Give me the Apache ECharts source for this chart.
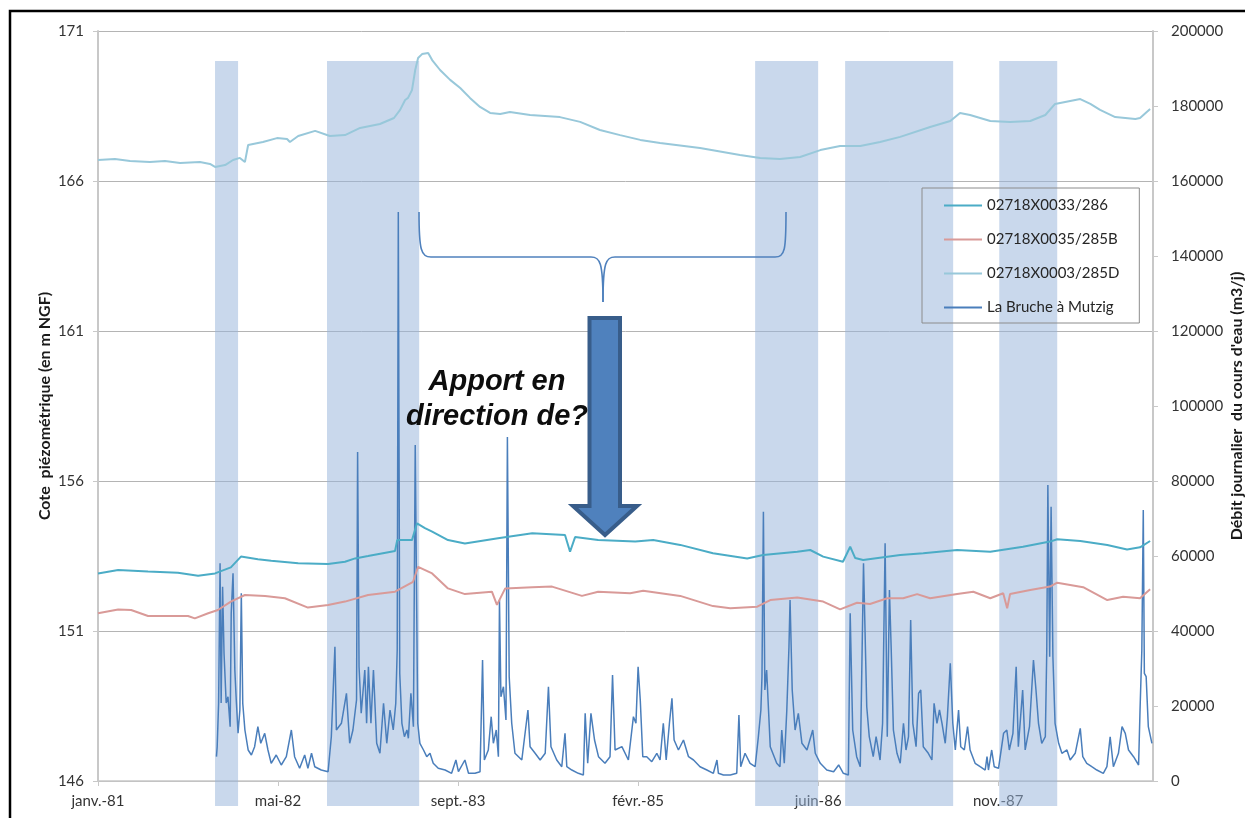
<!DOCTYPE html>
<html>
<head>
<meta charset="utf-8">
<script src="https://cdn.jsdelivr.net/npm/echarts@6/dist/echarts.min.js"></script>
<style>html,body{margin:0;padding:0;background:#fff;}#c{width:1245px;height:818px;}</style>
</head>
<body>
<div id="c"></div>
<script>
// x values are days since 1 Jan 1981
const xTickDays = [0, 500, 1000, 1500, 2000, 2500];
const monthNames = ['janv.','févr.','mars','avr.','mai','juin','juil.','août','sept.','oct.','nov.','déc.'];

const seriesNames = ['02718X0033/286', '02718X0035/285B', '02718X0003/285D', 'La Bruche à Mutzig'];

// 02718X0033/286 (m NGF)
const p286Days = [0,56,139,222,278,325,369,397,444,481,556,639,686,714,750,825,831,872,886,908,928,972,1019,1111,1206,1297,1311,1325,1389,1492,1542,1617,1708,1803,1847,1942,1978,2014,2069,2089,2103,2125,2228,2292,2386,2478,2569,2644,2664,2728,2803,2858,2894,2922];
const p286Vals = [152.92,153.03,152.98,152.94,152.84,152.92,153.12,153.48,153.39,153.34,153.26,153.23,153.31,153.42,153.50,153.67,154.03,154.03,154.59,154.43,154.31,154.03,153.92,154.09,154.26,154.20,153.64,154.13,154.03,153.98,154.03,153.87,153.59,153.42,153.53,153.64,153.70,153.48,153.31,153.81,153.43,153.37,153.53,153.59,153.70,153.64,153.81,153.98,154.06,154.00,153.87,153.72,153.79,154.00];

// 02718X0035/285B (m NGF)
const p285BDays = [0,56,92,139,186,250,269,306,333,369,408,464,519,583,639,686,750,825,875,889,928,972,1019,1094,1108,1131,1206,1261,1344,1389,1478,1514,1617,1708,1756,1831,1867,1942,2014,2061,2108,2144,2192,2236,2275,2311,2386,2431,2478,2514,2525,2533,2589,2644,2664,2736,2803,2847,2894,2922];
const p285BVals = [151.59,151.72,151.70,151.50,151.50,151.50,151.42,151.59,151.70,151.98,152.20,152.17,152.09,151.78,151.87,151.98,152.20,152.31,152.64,153.14,152.92,152.42,152.23,152.31,151.87,152.42,152.46,152.48,152.17,152.31,152.26,152.34,152.17,151.83,151.76,151.81,152.03,152.12,151.98,151.72,151.94,151.90,152.09,152.09,152.23,152.09,152.23,152.31,152.09,152.26,151.76,152.23,152.37,152.48,152.61,152.46,152.03,152.14,152.09,152.39];

// 02718X0003/285D (m NGF)
const p285DDays = [0,47,89,144,186,228,283,311,325,353,375,394,408,417,458,497,525,533,556,603,644,686,728,783,822,839,853,861,872,881,889,900,917,928,950,978,1006,1033,1061,1089,1117,1144,1200,1283,1339,1394,1450,1506,1561,1672,1783,1839,1894,1950,2006,2061,2117,2172,2228,2311,2367,2394,2422,2478,2533,2589,2631,2658,2700,2728,2756,2783,2825,2881,2894,2922];
const p285DVals = [166.70,166.73,166.67,166.63,166.67,166.60,166.63,166.57,166.47,166.53,166.70,166.77,166.63,167.20,167.30,167.43,167.40,167.30,167.50,167.67,167.50,167.53,167.77,167.90,168.10,168.37,168.70,168.77,169.03,169.70,170.10,170.23,170.27,170.03,169.70,169.37,169.10,168.77,168.47,168.27,168.23,168.30,168.20,168.13,167.97,167.70,167.53,167.37,167.27,167.10,166.87,166.77,166.73,166.80,167.03,167.17,167.17,167.30,167.47,167.80,168.00,168.27,168.20,168.00,167.97,168.00,168.20,168.57,168.67,168.73,168.57,168.37,168.13,168.07,168.10,168.40];

// La Bruche à Mutzig (m3/j)
const flowDays = [329,331,335,339,342,346,350,356,361,367,370,375,380,384,389,394,398,402,408,417,426,435,444,452,463,472,481,495,509,523,537,546,560,574,583,593,602,620,639,648,658,662,676,690,699,708,718,721,725,731,741,746,751,758,765,774,783,793,802,811,820,827,831,834,838,844,851,858,862,869,876,881,888,894,904,913,922,931,945,964,982,994,1001,1019,1029,1047,1061,1068,1073,1084,1092,1098,1106,1112,1115,1119,1126,1133,1137,1142,1149,1158,1177,1194,1200,1214,1228,1242,1251,1258,1274,1288,1297,1302,1316,1334,1348,1353,1360,1369,1379,1390,1408,1422,1429,1436,1455,1473,1487,1494,1500,1506,1513,1524,1538,1552,1561,1570,1578,1587,1594,1600,1612,1626,1640,1654,1672,1691,1709,1719,1723,1737,1756,1774,1780,1785,1797,1811,1825,1834,1841,1844,1848,1852,1857,1867,1885,1894,1899,1906,1913,1919,1922,1928,1936,1945,1955,1969,1985,1992,2006,2024,2043,2057,2070,2084,2089,2096,2107,2117,2126,2135,2142,2153,2161,2172,2179,2186,2192,2198,2203,2209,2219,2228,2237,2244,2251,2257,2263,2272,2279,2285,2292,2306,2316,2322,2330,2337,2344,2353,2359,2367,2374,2381,2390,2396,2406,2415,2422,2436,2450,2464,2469,2473,2482,2489,2501,2515,2524,2531,2541,2550,2556,2568,2575,2587,2598,2605,2612,2621,2631,2635,2638,2643,2647,2652,2658,2668,2677,2691,2700,2714,2728,2735,2746,2760,2774,2792,2802,2811,2820,2834,2844,2853,2862,2876,2890,2894,2899,2903,2906,2911,2917,2927];
const flowVals = [6500,9150,20800,58050,20800,51800,34050,20800,22480,14480,44720,55390,29600,21600,12720,18930,50050,20720,13600,8270,6930,9150,14480,10050,12720,8270,4720,6930,4270,6480,13600,6480,3390,6930,3390,7390,3810,2930,2480,11810,35810,13600,15390,23390,10050,13600,21600,87730,30480,18050,29600,15390,30480,15390,29600,10050,7390,20720,10050,18930,13600,20720,34930,151730,28720,15390,11810,13600,11390,23390,14480,89600,15390,10050,8270,6480,7390,4720,3390,2930,2050,5600,2480,5600,2050,2050,2480,32270,5600,8270,17150,10050,13600,6480,48270,22480,25150,16270,91730,27810,15390,7390,5600,18930,9150,7390,5600,7390,25150,9150,5600,3810,12720,3810,2930,2050,1600,18050,4720,18050,10930,6480,4720,6480,28270,8270,9150,5600,17150,15390,30480,21600,6480,6480,5150,7390,5600,15390,5600,15390,22050,10930,8270,10930,6480,5600,3810,2930,2050,5600,2050,1600,1600,2050,17600,3810,7390,4720,3810,11810,18930,27810,71810,24270,29600,9150,4720,3810,13600,4720,18930,35810,48270,24270,13600,18050,10050,8270,13600,7390,4720,2930,2480,4270,2050,1600,44720,13600,6480,3810,58050,19810,11810,6480,11810,5600,15390,63390,11810,50930,34930,13600,7390,4720,15390,8270,11810,42930,15390,9150,23390,24270,9150,7390,5600,20720,15390,18930,15390,10050,17150,31390,15390,8270,18930,9150,8270,14480,8270,4720,3810,2930,6480,2930,8270,3810,3390,12720,13600,8270,12720,30480,9150,24270,8270,14480,32270,24270,15390,10050,11810,34930,78930,33150,73150,33150,15390,10050,7390,8270,5600,7390,14050,6480,4720,3810,2930,2050,3810,11810,3810,7390,14480,12720,8270,6480,4270,18930,34930,72270,28720,27810,14480,10050];

// highlighted periods [start day, end day]
const bandStarts = [325, 636, 1825, 2075, 2503];
const bandEnds   = [389, 892, 2000, 2375, 2664];

const zip = (a, b) => a.map((d, i) => [d, b[i]]);
const DAY0 = Date.UTC(1981, 0, 1);
function dayLabel(v) {
  if (xTickDays.indexOf(v) < 0) return '';
  const d = new Date(DAY0 + v * 86400000);
  return monthNames[d.getUTCMonth()] + '-' + String(d.getUTCFullYear()).slice(2);
}

const FONT = 'Lato';
const BAND_TOP = 192000, BAND_BOTTOM = -6667; // in right-axis units
const BRACE = '#4f81bd';
const colors = ['#4bacc6', '#d99a98', '#98c8da', '#4a7ebb'];

const chart = echarts.init(document.getElementById('c'), null, {renderer: 'canvas'});
chart.setOption({
  animation: false,
  backgroundColor: '#ffffff',
  textStyle: {fontFamily: FONT},
  grid: {left: 98, right: 92, top: 31, bottom: 37, containLabel: false, outerBoundsMode: 'none'},
  legend: {
    orient: 'vertical', left: 922, top: 188,
    data: seriesNames.map(n => ({name: n, icon: 'rect'})),
    padding: [10, 20, 8, 22],
    itemGap: 19, itemWidth: 38, itemHeight: 2,
    borderColor: '#8c8c8c', borderWidth: 1, backgroundColor: 'transparent',
    textStyle: {fontFamily: FONT, fontSize: 15, color: '#262626'}
  },
  xAxis: {
    type: 'value', min: 0, max: 2930, interval: 500,
    axisLine: {show: true, lineStyle: {color: '#c8c8c8', width: 1.5}},
    axisTick: {show: true, length: 5, lineStyle: {color: '#c8c8c8'}},
    splitLine: {show: false},
    axisLabel: {formatter: dayLabel, fontSize: 15, color: '#333', margin: 13, fontFamily: FONT, showMaxLabel: false}
  },
  yAxis: [
    {
      type: 'value', min: 146, max: 171, interval: 5, position: 'left',
      name: 'Cote  piézométrique (en m NGF)', nameLocation: 'middle', nameRotate: 90, nameGap: 45,
      nameMoveOverlap: false,
      nameTextStyle: {fontFamily: FONT, fontSize: 16, fontWeight: 'bold', color: '#1a1a1a'},
      axisLine: {show: true, lineStyle: {color: '#c8c8c8', width: 2}},
      axisTick: {show: true, length: 5, lineStyle: {color: '#c8c8c8'}},
      splitLine: {show: true, lineStyle: {color: '#b4b4b4', width: 1}},
      axisLabel: {fontSize: 15, color: '#333', margin: 14, fontFamily: FONT}
    },
    {
      type: 'value', min: 0, max: 200000, interval: 20000, position: 'right',
      name: "Débit journalier  du cours d'eau (m3/j)", nameLocation: 'middle', nameRotate: 90, nameGap: 76,
      nameMoveOverlap: false,
      nameTextStyle: {fontFamily: FONT, fontSize: 16, fontWeight: 'bold', color: '#1a1a1a'},
      axisLine: {show: true, lineStyle: {color: '#c8c8c8', width: 2}},
      axisTick: {show: true, length: 5, lineStyle: {color: '#c8c8c8'}},
      splitLine: {show: false},
      axisLabel: {fontSize: 15, color: '#333', margin: 18, fontFamily: FONT, formatter: v => String(v)}
    }
  ],
  series: [
    {
      type: 'custom', name: 'bands', yAxisIndex: 1, clip: false, z: 1, silent: true,
      data: bandStarts.map((s, i) => [s, bandEnds[i]]),
      encode: {x: [0, 1]},
      renderItem: function (params, api) {
        const p1 = api.coord([api.value(0), BAND_TOP]);
        const p2 = api.coord([api.value(1), BAND_BOTTOM]);
        return {type: 'rect', shape: {x: p1[0], y: p1[1], width: p2[0] - p1[0], height: p2[1] - p1[1]},
                style: {fill: 'rgba(151,181,218,0.52)'}};
      }
    },
    {
      name: seriesNames[3], type: 'line', yAxisIndex: 1, data: zip(flowDays, flowVals),
      symbol: 'none', lineStyle: {color: colors[3], width: 1.5}, itemStyle: {color: colors[3]}, z: 3
    },
    {
      name: seriesNames[0], type: 'line', yAxisIndex: 0, data: zip(p286Days, p286Vals),
      symbol: 'none', lineStyle: {color: colors[0], width: 2}, itemStyle: {color: colors[0]}, z: 4
    },
    {
      name: seriesNames[1], type: 'line', yAxisIndex: 0, data: zip(p285BDays, p285BVals),
      symbol: 'none', lineStyle: {color: colors[1], width: 2}, itemStyle: {color: colors[1]}, z: 4
    },
    {
      name: seriesNames[2], type: 'line', yAxisIndex: 0, data: zip(p285DDays, p285DVals),
      symbol: 'none', lineStyle: {color: colors[2], width: 2}, itemStyle: {color: colors[2]}, z: 4
    }
  ],
  graphic: [
    {type: 'rect', z: 200, silent: true, shape: {x: 10, y: 11, width: 1400, height: 1000},
     style: {fill: 'none', stroke: '#000', lineWidth: 2.5}},
    {type: 'bezierCurve', z: 150, silent: true, shape: {x1: 419, y1: 212, cpx1: 419, cpy1: 250, cpx2: 421, cpy2: 257, x2: 431, y2: 257},
     style: {fill: 'none', stroke: BRACE, lineWidth: 1.6}},
    {type: 'line', z: 150, silent: true, shape: {x1: 431, y1: 257, x2: 591, y2: 257},
     style: {stroke: BRACE, lineWidth: 1.6}},
    {type: 'bezierCurve', z: 150, silent: true, shape: {x1: 591, y1: 257, cpx1: 600, cpy1: 257, cpx2: 603, cpy2: 262, x2: 603, y2: 302},
     style: {fill: 'none', stroke: BRACE, lineWidth: 1.6}},
    {type: 'bezierCurve', z: 150, silent: true, shape: {x1: 603, y1: 302, cpx1: 603, cpy1: 262, cpx2: 606, cpy2: 257, x2: 615, y2: 257},
     style: {fill: 'none', stroke: BRACE, lineWidth: 1.6}},
    {type: 'line', z: 150, silent: true, shape: {x1: 615, y1: 257, x2: 775, y2: 257},
     style: {stroke: BRACE, lineWidth: 1.6}},
    {type: 'bezierCurve', z: 150, silent: true, shape: {x1: 775, y1: 257, cpx1: 785, cpy1: 257, cpx2: 786, cpy2: 250, x2: 786, y2: 212},
     style: {fill: 'none', stroke: BRACE, lineWidth: 1.6}},
    {type: 'polygon', z: 150, silent: true,
     shape: {points: [[589.5,318],[620,318],[620,506],[637,506],[605,535],[573,506],[589.5,506]]},
     style: {fill: '#4f81bd', stroke: '#385d8a', lineWidth: 4, lineJoin: 'miter'}},
    {type: 'text', z: 150, silent: true, x: 497, y: 399,
     style: {text: 'Apport en\ndirection de?', font: 'italic bold 29px "Liberation Sans"', fill: '#0d0d0d',
             align: 'center', verticalAlign: 'middle', textAlign: 'center', textVerticalAlign: 'middle', lineHeight: 35}}
  ]
});
</script>
</body>
</html>
